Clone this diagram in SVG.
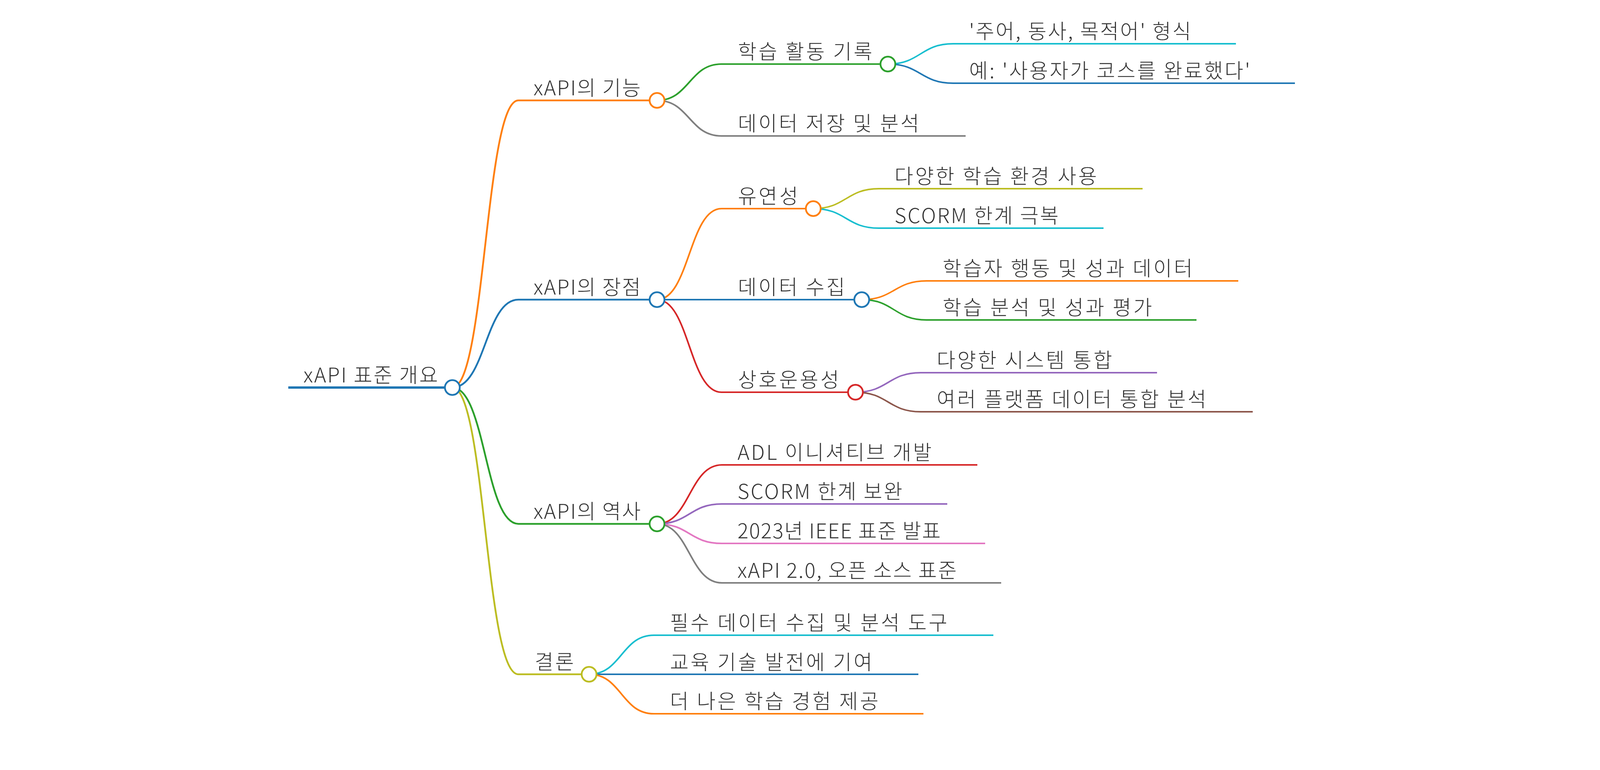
<svg xmlns="http://www.w3.org/2000/svg" width="4147" height="1971" viewBox="0 0 4147 1971">
<style>
text{font-family:"Noto Sans CJK KR","Noto Sans",sans-serif;font-size:52px;fill:#333;font-weight:300}
.ln{fill:none}
circle{fill:#fff;stroke-width:4.5}
.d0{stroke-width:6}
.d1{stroke-width:4.6}
.d2{stroke-width:4.2}
.d3{stroke-width:3.8}
.blue{stroke:#1f77b4}.orange{stroke:#ff7f0e}.green{stroke:#2ca02c}.red{stroke:#d62728}.purple{stroke:#9467bd}.brown{stroke:#8c564b}.pink{stroke:#e377c2}.gray{stroke:#7f7f7f}.olive{stroke:#bcbd22}.cyan{stroke:#17becf}
</style>
<rect width="4147" height="1971" fill="#fff"/>
<g id="connectors" fill="none">
<path class="d1 orange" d="M1158 992 C1242.5 992 1242.5 257 1327 257"/>
<path class="d1 blue" d="M1158 992 C1242.5 992 1242.5 767 1327 767"/>
<path class="d1 green" d="M1158 992 C1242.5 992 1242.5 1341 1327 1341"/>
<path class="d1 olive" d="M1158 992 C1242.5 992 1242.5 1726 1327 1726"/>
<path class="d2 green" d="M1682 257 C1764.5 257 1764.5 164 1847 164"/>
<path class="d2 gray" d="M1682 257 C1764.5 257 1764.5 348 1847 348"/>
<path class="d3 cyan" d="M2273 164 C2356.5 164 2356.5 112 2440 112"/>
<path class="d3 blue" d="M2273 164 C2356.5 164 2356.5 213 2440 213"/>
<path class="d2 orange" d="M1682 767 C1764.5 767 1764.5 534 1847 534"/>
<path class="d2 blue" d="M1682 767 C1764.5 767 1764.5 767 1847 767"/>
<path class="d2 red" d="M1682 767 C1764.5 767 1764.5 1004 1847 1004"/>
<path class="d3 olive" d="M2082 534 C2166 534 2166 483 2250 483"/>
<path class="d3 cyan" d="M2082 534 C2166 534 2166 584 2250 584"/>
<path class="d3 orange" d="M2206 767 C2289 767 2289 719 2372 719"/>
<path class="d3 green" d="M2206 767 C2289 767 2289 819 2372 819"/>
<path class="d3 purple" d="M2190 1004 C2273.5 1004 2273.5 954 2357 954"/>
<path class="d3 brown" d="M2190 1004 C2273.5 1004 2273.5 1054 2357 1054"/>
<path class="d2 red" d="M1682 1341 C1765 1341 1765 1190 1848 1190"/>
<path class="d2 purple" d="M1682 1341 C1765 1341 1765 1290 1848 1290"/>
<path class="d2 pink" d="M1682 1341 C1765 1341 1765 1391 1848 1391"/>
<path class="d2 gray" d="M1682 1341 C1765 1341 1765 1492 1848 1492"/>
<path class="d2 cyan" d="M1508 1726 C1591 1726 1591 1626 1674 1626"/>
<path class="d2 blue" d="M1508 1726 C1591 1726 1591 1726 1674 1726"/>
<path class="d2 orange" d="M1508 1726 C1591 1726 1591 1827 1674 1827"/>
</g>
<g id="n-root"><path class="ln d0 blue" d="M738 992 H1158"/><circle class="blue" cx="1158" cy="992" r="19"/><text x="777" y="979" textLength="344" lengthAdjust="spacing">xAPI 표준 개요</text></g>
<g id="n-func"><path class="ln d1 orange" d="M1327 257 H1682"/><circle class="orange" cx="1682" cy="257" r="19"/><text x="1366" y="244" textLength="274" lengthAdjust="spacing">xAPI의 기능</text></g>
<g id="n-record"><path class="ln d2 green" d="M1847 164 H2273"/><circle class="green" cx="2273" cy="164" r="19"/><text x="1889" y="151" textLength="344" lengthAdjust="spacing">학습 활동 기록</text></g>
<g id="n-format"><path class="ln d3 cyan" d="M2440 112 H3164"/><text x="2481" y="99" textLength="568" lengthAdjust="spacing">'주어, 동사, 목적어' 형식</text></g>
<g id="n-example"><path class="ln d3 blue" d="M2440 213 H3315"/><text x="2481" y="200" textLength="719" lengthAdjust="spacing">예: '사용자가 코스를 완료했다'</text></g>
<g id="n-store"><path class="ln d2 gray" d="M1847 348 H2472"/><text x="1889" y="335" textLength="464" lengthAdjust="spacing">데이터 저장 및 분석</text></g>
<g id="n-adv"><path class="ln d1 blue" d="M1327 767 H1682"/><circle class="blue" cx="1682" cy="767" r="19"/><text x="1366" y="754" textLength="274" lengthAdjust="spacing">xAPI의 장점</text></g>
<g id="n-flex"><path class="ln d2 orange" d="M1847 534 H2082"/><circle class="orange" cx="2082" cy="534" r="19"/><text x="1889" y="521" textLength="154" lengthAdjust="spacing">유연성</text></g>
<g id="n-env"><path class="ln d3 olive" d="M2250 483 H2925"/><text x="2290" y="470" textLength="518" lengthAdjust="spacing">다양한 학습 환경 사용</text></g>
<g id="n-scorm1"><path class="ln d3 cyan" d="M2250 584 H2825"/><text x="2290" y="571" textLength="420" lengthAdjust="spacing">SCORM 한계 극복</text></g>
<g id="n-collect"><path class="ln d2 blue" d="M1847 767 H2206"/><circle class="blue" cx="2206" cy="767" r="19"/><text x="1889" y="754" textLength="274" lengthAdjust="spacing">데이터 수집</text></g>
<g id="n-behav"><path class="ln d3 orange" d="M2372 719 H3170"/><text x="2413" y="706" textLength="640" lengthAdjust="spacing">학습자 행동 및 성과 데이터</text></g>
<g id="n-analy"><path class="ln d3 green" d="M2372 819 H3063"/><text x="2413" y="806" textLength="536" lengthAdjust="spacing">학습 분석 및 성과 평가</text></g>
<g id="n-interop"><path class="ln d2 red" d="M1847 1004 H2190"/><circle class="red" cx="2190" cy="1004" r="19"/><text x="1889" y="991" textLength="259" lengthAdjust="spacing">상호운용성</text></g>
<g id="n-sys"><path class="ln d3 purple" d="M2357 954 H2962"/><text x="2398" y="941" textLength="449" lengthAdjust="spacing">다양한 시스템 통합</text></g>
<g id="n-plat"><path class="ln d3 brown" d="M2357 1054 H3207"/><text x="2398" y="1041" textLength="690" lengthAdjust="spacing">여러 플랫폼 데이터 통합 분석</text></g>
<g id="n-hist"><path class="ln d1 green" d="M1327 1341 H1682"/><circle class="green" cx="1682" cy="1341" r="19"/><text x="1366" y="1328" textLength="274" lengthAdjust="spacing">xAPI의 역사</text></g>
<g id="n-adl"><path class="ln d2 red" d="M1848 1190 H2502"/><text x="1888" y="1177" textLength="497" lengthAdjust="spacing">ADL 이니셔티브 개발</text></g>
<g id="n-scorm2"><path class="ln d2 purple" d="M1848 1290 H2425"/><text x="1888" y="1277" textLength="422" lengthAdjust="spacing">SCORM 한계 보완</text></g>
<g id="n-ieee"><path class="ln d2 pink" d="M1848 1391 H2522"/><text x="1888" y="1378" textLength="520" lengthAdjust="spacing">2023년 IEEE 표준 발표</text></g>
<g id="n-x20"><path class="ln d2 gray" d="M1848 1492 H2563"/><text x="1888" y="1479" textLength="561" lengthAdjust="spacing">xAPI 2.0, 오픈 소스 표준</text></g>
<g id="n-concl"><path class="ln d1 olive" d="M1327 1726 H1508"/><circle class="olive" cx="1508" cy="1726" r="19"/><text x="1369" y="1713" textLength="100" lengthAdjust="spacing">결론</text></g>
<g id="n-tool"><path class="ln d2 cyan" d="M1674 1626 H2543"/><text x="1715" y="1613" textLength="710" lengthAdjust="spacing">필수 데이터 수집 및 분석 도구</text></g>
<g id="n-edu"><path class="ln d2 blue" d="M1674 1726 H2351"/><text x="1715" y="1714" textLength="518" lengthAdjust="spacing">교육 기술 발전에 기여</text></g>
<g id="n-better"><path class="ln d2 orange" d="M1674 1827 H2364"/><text x="1715" y="1814" textLength="534" lengthAdjust="spacing">더 나은 학습 경험 제공</text></g>
</svg>
